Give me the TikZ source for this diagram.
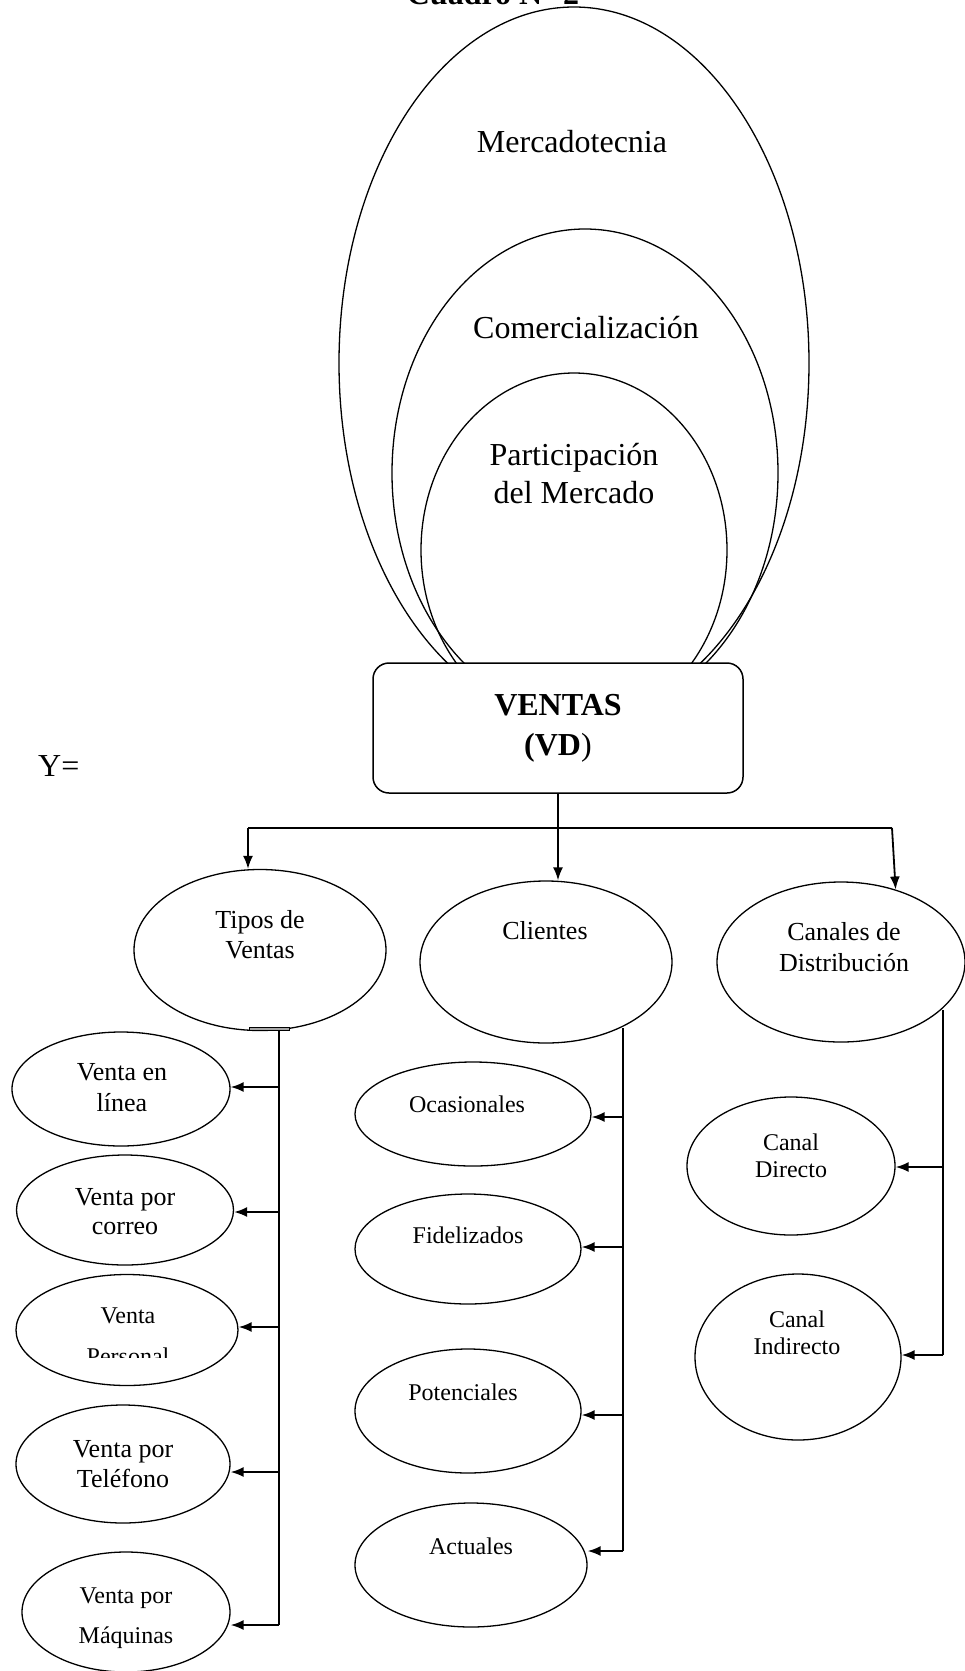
\documentclass[tikz,border=0pt]{standalone}
\usepackage{fontspec}
\setmainfont{Liberation Serif}
\usetikzlibrary{shapes.geometric, arrows.meta, positioning}

\begin{document}
\begin{tikzpicture}[x=1pt, y=-1pt,
oval/.style = {draw, ellipse, line width=1.3pt, inner sep=0pt},
txt/.style = {align=center, anchor=base, inner sep=0pt, font=\fontsize{26}{30}\selectfont},
txtsmall/.style = {txt, font=\fontsize{24}{27}\selectfont},
txtbig/.style = {txt, font=\fontsize{32}{38}\selectfont},
conn/.style = {line width=1.8pt},
connarrow/.style = {conn, -{Latex[length=13pt, width=10pt]}}
]
\useasboundingbox (0,0) rectangle (965,1671);

% title
\node[txtbig, font=\fontsize{32}{38}\selectfont\bfseries] (TITULO) at (493,4) {Cuadro N° 2};

% nested ellipses
\node[oval, minimum width=470, minimum height=712] (MERCADOTECNIA) at (574,363) {};
\node[oval, minimum width=386, minimum height=488] (COMERCIALIZACION) at (585,473) {};
\node[oval, minimum width=306, minimum height=354] (PARTICIPACION) at (574,550) {};
\node[txtbig] (MERCADOTECNIAtxt) at (572,152) {Mercadotecnia};
\node[txtbig] (COMERCIALIZACIONtxt) at (586,338) {Comercialización};
\node[txtbig] (PARTICIPACIONtxt) at (574,503) {Participación\\del Mercado};

% dependent variable
\node[draw, line width=1.5pt, fill=white, rounded corners=16pt,
minimum width=370, minimum height=130, align=center,
font=\fontsize{32}{40}\selectfont\bfseries] (VENTAS) at (558,728) {VENTAS\\(VD\textmd{)}};
\node[txtbig, anchor=base west] (Y) at (38,776) {Y=};

% dimensions
\node[oval, minimum width=252, minimum height=161] (TIPOS) at (260,950) {};
\node[oval, minimum width=252, minimum height=162] (CLIENTES) at (546,962) {};
\node[oval, minimum width=248, minimum height=160] (CANALES) at (841,962) {};
\node[txt] (TIPOStxt) at (260,958) {Tipos de\\Ventas};
\node[txt] (CLIENTEStxt) at (545,939) {Clientes};
\node[txt, font=\fontsize{26}{31}\selectfont] (CANALEStxt) at (844,971) {Canales de\\Distribución};

% tipos de ventas
\node[oval, minimum width=218, minimum height=114] (VLINEA) at (121,1089) {};
\node[oval, minimum width=217, minimum height=110] (VCORREO) at (125,1210) {};
\node[oval, minimum width=222, minimum height=111] (VPERSONAL) at (127,1330) {};
\node[oval, minimum width=214, minimum height=118] (VTELEFONO) at (123,1464) {};
\node[oval, minimum width=208, minimum height=120] (VMAQUINAS) at (126,1612) {};
\node[txt, font=\fontsize{26}{31}\selectfont] (VLINEAtxt) at (122,1111) {Venta en\\línea};
\node[txt, font=\fontsize{26}{29}\selectfont] (VCORREOtxt) at (125,1234) {Venta por\\correo};
\node[txtsmall] (VPERSONALtxt) at (128,1323) {Venta};
\begin{scope}
\clip (0,1300) rectangle (300,1357);
\node[txtsmall] (PERSONALtxt) at (128,1364) {Personal};
\end{scope}
\node[txt] (VTELEFONOtxt) at (123,1487) {Venta por\\Teléfono};
\node[txtsmall, font=\fontsize{24}{40}\selectfont] (VMAQUINAStxt) at (126,1643) {Venta por\\Máquinas};

% clientes
\node[oval, minimum width=236, minimum height=104] (OCASIONALES) at (473,1114) {};
\node[oval, minimum width=226, minimum height=110] (FIDELIZADOS) at (468,1249) {};
\node[oval, minimum width=226, minimum height=124] (POTENCIALES) at (468,1411) {};
\node[oval, minimum width=232, minimum height=124] (ACTUALES) at (471,1565) {};
\node[txtsmall] (OCASIONALEStxt) at (467,1112) {Ocasionales};
\node[txtsmall] (FIDELIZADOStxt) at (468,1243) {Fidelizados};
\node[txtsmall] (POTENCIALEStxt) at (463,1400) {Potenciales};
\node[txtsmall] (ACTUALEStxt) at (471,1554) {Actuales};

% canales
\node[oval, minimum width=208, minimum height=138] (DIRECTO) at (791,1166) {};
\node[oval, minimum width=206, minimum height=166] (INDIRECTO) at (798,1357) {};
\node[txtsmall] (DIRECTOtxt) at (791,1177) {Canal\\Directo};
\node[txtsmall] (INDIRECTOtxt) at (797,1354) {Canal\\Indirecto};

% connections
\coordinate (ramaIzq) at (248,828);
\coordinate (ramaDer) at (892,828);
\draw[conn] (ramaIzq) -- (ramaDer);
\draw[connarrow] (VENTAS.south) -- (VENTAS.south |- CLIENTES.north);
\draw[connarrow] (ramaIzq) -- (ramaIzq |- TIPOS.north);
\draw[connarrow] (ramaDer) -- (CANALES.53);

\coordinate (troncoTipos) at (279,1029);
\coordinate (troncoClientes) at (623,1028);
\coordinate (troncoCanales) at (943,1010);
\draw[conn] (troncoTipos) -- (279,1625);
\draw[conn] (troncoClientes) -- (623,1551);
\draw[conn] (troncoCanales) -- (943,1355);
\draw[fill=gray!70, line width=0.6pt] (249,1027.5) rectangle (289,1030.5);

\foreach \n/\y in {VLINEA/1087, VCORREO/1212, VPERSONAL/1327, VTELEFONO/1472, VMAQUINAS/1625}{
\coordinate (t\n) at (279,\y);
\draw[connarrow] (t\n) -- (t\n -| \n.east);
}
\foreach \n/\y in {OCASIONALES/1117, FIDELIZADOS/1247, POTENCIALES/1415, ACTUALES/1551}{
\coordinate (t\n) at (623,\y);
\draw[connarrow] (t\n) -- (t\n -| \n.east);
}
\foreach \n/\y in {DIRECTO/1167, INDIRECTO/1355}{
\coordinate (t\n) at (943,\y);
\draw[connarrow] (t\n) -- (t\n -| \n.east);
}

\end{tikzpicture}
\end{document}
